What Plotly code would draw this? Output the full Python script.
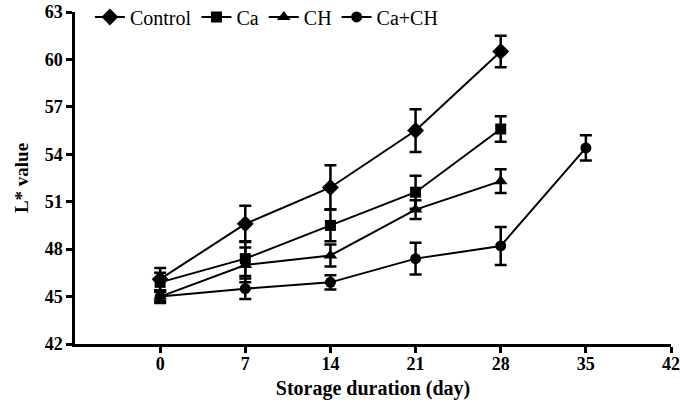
import plotly.graph_objects as go

days = [0, 7, 14, 21, 28]
days_cach = [0, 7, 14, 21, 28, 35]

control = [46.1, 49.6, 51.9, 55.5, 60.5]
control_err = [0.7, 1.15, 1.4, 1.35, 1.0]

ca = [45.9, 47.4, 49.5, 51.6, 55.6]
ca_err = [0.6, 1.1, 1.0, 1.05, 0.8]

ch = [45.0, 47.0, 47.6, 50.5, 52.3]
ch_err = [0.4, 1.1, 0.7, 0.6, 0.75]

cach = [45.0, 45.5, 45.9, 47.4, 48.2, 54.4]
cach_err = [0.3, 0.65, 0.45, 1.0, 1.2, 0.8]

x_ticks = [0, 7, 14, 21, 28, 35, 42]
y_ticks = [42, 45, 48, 51, 54, 57, 60, 63]

series = [
    ("Control", days, control, control_err, "diamond", 13),
    ("Ca", days, ca, ca_err, "square", 11),
    ("CH", days, ch, ch_err, "triangle-up", 12),
    ("Ca+CH", days_cach, cach, cach_err, "circle", 11),
]

fig = go.Figure()
for name, xs, ys, es, sym, sz in series:
    fig.add_trace(go.Scatter(
        x=xs, y=ys, name=name, mode="lines+markers",
        line=dict(color="black", width=2),
        marker=dict(symbol=sym, size=sz, color="black"),
        error_y=dict(type="data", array=es, visible=True, color="black",
                     thickness=2.5, width=6),
    ))

font_family = "Liberation Serif"
fig.update_layout(
    width=680, height=408,
    margin=dict(l=75, r=9, t=12, b=64, autoexpand=False),
    plot_bgcolor="white", paper_bgcolor="white",
    font=dict(family=font_family, size=18, color="black"),
    showlegend=True,
    legend=dict(orientation="h", x=0.025, y=0.985, xanchor="left", yanchor="middle",
                font=dict(family=font_family, size=20, color="black"),
                bgcolor="rgba(0,0,0,0)", itemwidth=30, tracegroupgap=0),
    xaxis=dict(range=[-7, 42], tickmode="array", tickvals=x_ticks,
               ticktext=["<b>%d</b>" % v for v in x_ticks],
               showgrid=False, zeroline=False, showline=True, linecolor="black",
               linewidth=2.5, ticks="outside", ticklen=6, tickwidth=2.5,
               tickcolor="black", tickfont=dict(size=18), automargin=False,
               ticklabelstandoff=-4,
               title=dict(text="<b>Storage duration (day)</b>", standoff=8,
                          font=dict(size=20))),
    yaxis=dict(range=[42, 63], tickmode="array", tickvals=y_ticks,
               ticktext=["<b>%d</b>" % v for v in y_ticks],
               showgrid=False, zeroline=False, showline=True, linecolor="black",
               linewidth=2.5, ticks="outside", ticklen=6, tickwidth=2.5,
               tickcolor="black", tickfont=dict(size=18), automargin=False,
               title=dict(text="<b>L* value</b>", standoff=12, font=dict(size=19))),
)

fig.write_html("out.html", config={"displayModeBar": False},
               post_script="document.body.style.margin='0';")
